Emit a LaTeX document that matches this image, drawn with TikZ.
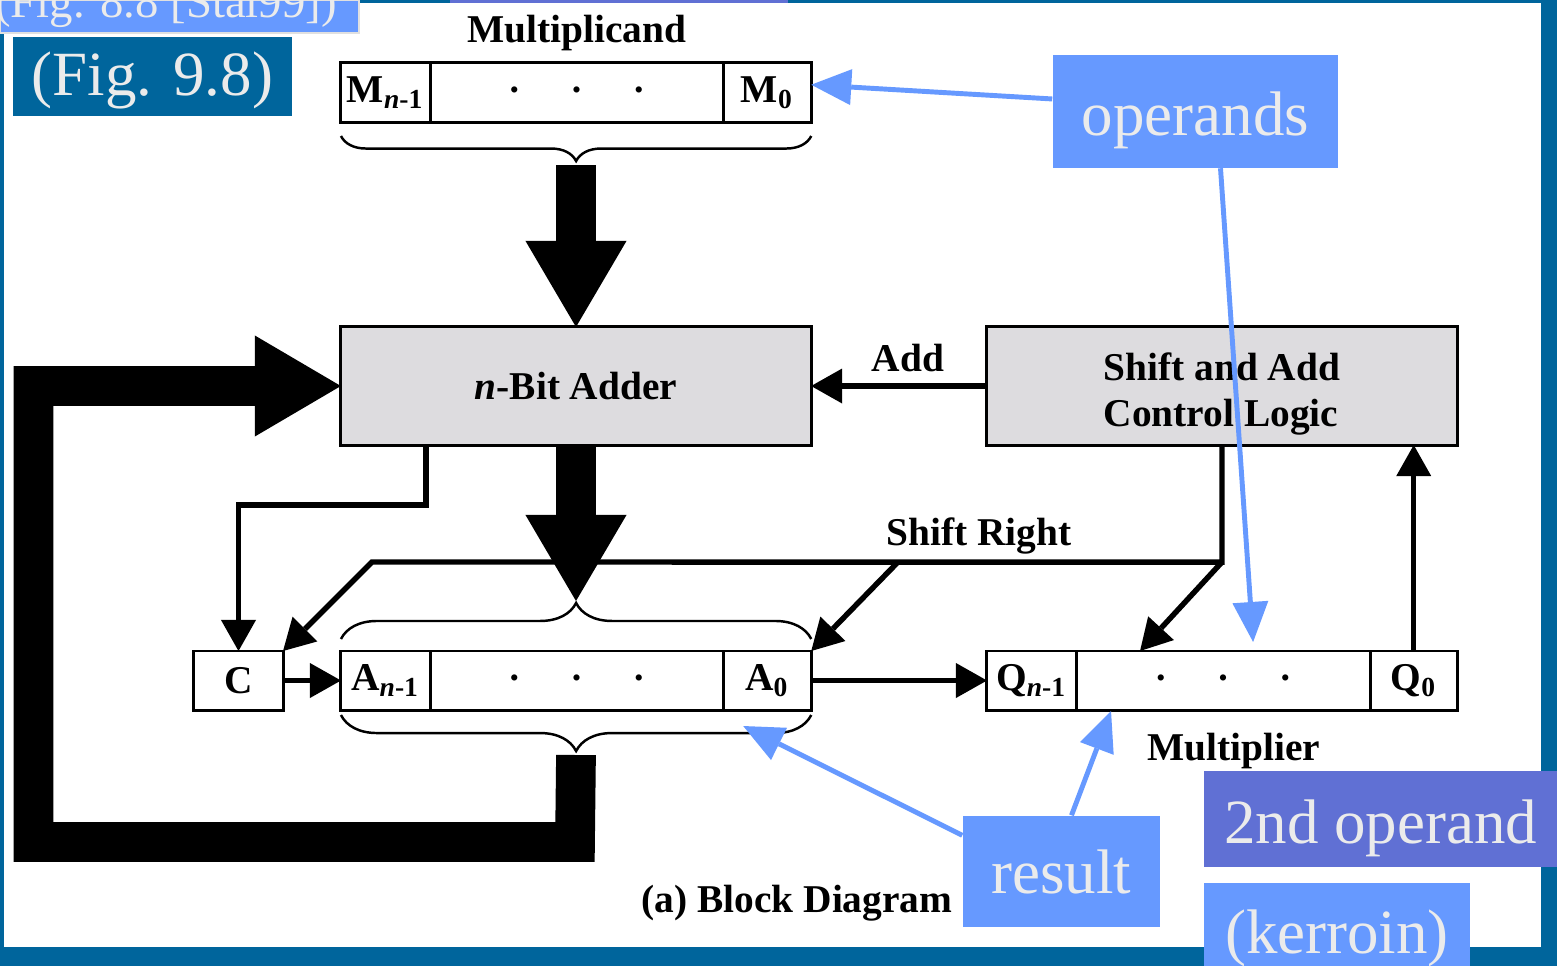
\documentclass[tikz,border=0pt]{standalone}
\usepackage{fontspec}
\setmainfont{Liberation Serif}
\usetikzlibrary{arrows.meta,calc,positioning,decorations.pathreplacing}

\definecolor{slideblue}{RGB}{0,101,156}
\definecolor{tagblue}{RGB}{102,153,255}
\definecolor{tagviolet}{RGB}{96,112,212}
\definecolor{tagtext}{RGB}{235,235,235}
\definecolor{unitgray}{RGB}{221,220,223}

\newcommand{\labfont}{\fontsize{11.2}{13.3}\selectfont\bfseries}
\newcommand{\tagfont}{\fontsize{17.9}{21}\selectfont}
\newcommand{\regdot}{{\fontsize{6.5}{6.5}\selectfont\textbullet}}
\newcommand{\regdots}{\regdot\hspace{15.4pt}\regdot\hspace{15.4pt}\regdot}

\tikzset{
  cell/.style={draw, line width=0.85pt, inner sep=0pt, outer sep=0pt, minimum height=0.59cm, font=\labfont},
  unit/.style={draw, line width=0.85pt, fill=unitgray, inner sep=0pt, outer sep=0pt, minimum width=4.7cm, minimum height=1.18cm, font=\labfont},
  wire/.style={line width=1.55pt, line join=miter},
  arr/.style={wire, -{Triangle[width=0.35cm,length=0.31cm,line width=0pt]}},
  bus/.style={line width=11.3pt, line join=miter, -{Triangle[width=1.01cm,length=0.86cm,line width=0pt]}},
  brc/.style={decorate, decoration={brace, amplitude=#1}, line width=0.7pt},
  tag/.style={fill=tagblue, text=tagtext, font=\tagfont, inner sep=0pt, text depth=0pt},
  hint/.style={line width=1.4pt, color=tagblue, -{Triangle[width=0.36cm,length=0.4cm,line width=0pt]}}
}

\begin{document}
\begin{tikzpicture}[x=0.01cm, y=-0.01cm]
	%%%%% START %%%%%
	\fill[white, use as bounding box] (0,0) rectangle (1557,966);
	
	% slide frame
	\fill[slideblue] (0,0) rectangle (4,966);
	\fill[slideblue] (0,0) rectangle (1557,3);
	\fill[slideblue] (1541,0) rectangle (1557,966);
	\fill[slideblue] (0,947) rectangle (1557,966);
	\fill[tagviolet] (450,0) rectangle (788,3);
	
	% figure references
	\node[tag, minimum width=3.59cm, minimum height=0.33cm, draw=black!12, line width=0.4pt] (oldref) at (179.5,16.5) {};
	\node[text=tagtext, font=\fontsize{13.3}{15}\selectfont, anchor=base] (oldreftxt) at (166,17) {(Fig. 8.8 [Stal99])};
	\node[tag, fill=slideblue, minimum width=2.79cm, minimum height=0.79cm, text height=0.37cm] (figref) at (152.5,76.5) {(Fig. 9.8)};
	
	% multiplicand
	\node[font=\labfont] (mcand) at (577,33) {Multiplicand};
	\node[cell, minimum width=0.89cm] (mhi) at (385.5,92.5) {M\textsubscript{\textit{n}-1}};
	\node[cell, minimum width=2.93cm, right=0pt of mhi] (mmid) {\regdots};
	\node[cell, minimum width=0.88cm, right=0pt of mmid] (mlo) {M\textsubscript{0}};
	\draw[brc=0.25cm] ($(mlo.south east)+(0,14)$) -- ($(mhi.south west)+(0,14)$);
	\coordinate (mtip) at (576,165);
	
	% adder and control logic
	\node[unit] (adder) at (576,386) {\textit{n}-Bit Adder};
	\node[unit] (ctrl) at (1222,386) {};
	\node[font=\labfont, align=left] (ctrltxt) at (1222,394) {Shift and Add\\Control Logic};
	\draw[bus] (mtip) -- (adder.north);
	\draw[arr] (ctrl.west) -- (adder.east);
	\node[font=\labfont] (addlbl) at (908,358) {Add};
	
	% C and A
	\node[cell, minimum width=0.89cm] (cbit) at (238.5,680.5) {C};
	\node[cell, minimum width=0.89cm] (ahi) at (385.5,680.5) {A\textsubscript{\textit{n}-1}};
	\node[cell, minimum width=2.93cm, right=0pt of ahi] (amid) {\regdots};
	\node[cell, minimum width=0.88cm, right=0pt of amid] (alo) {A\textsubscript{0}};
	\draw[brc=0.36cm] ($(ahi.north west)+(0,-12)$) -- ($(alo.north east)+(0,-12)$);
	\draw[brc=0.36cm] ($(alo.south east)+(0,5)$) -- ($(ahi.south west)+(0,5)$);
	\coordinate (atop) at (576,601);
	\coordinate (abot) at (576,755);
	
	% Q
	\node[cell, minimum width=0.89cm] (qhi) at (1031.5,680.5) {Q\textsubscript{\textit{n}-1}};
	\node[cell, minimum width=2.94cm, right=0pt of qhi] (qmid) {\regdots};
	\node[cell, minimum width=0.87cm, right=0pt of qmid] (qlo) {Q\textsubscript{0}};
	\node[font=\labfont] (mplier) at (1234,751) {Multiplier};
	
	% data paths
	\draw[bus] (adder.south) -- (atop);
	\draw[bus] (abot) -- (575,842) -- (33.5,842) |- (adder.west);
	\draw[arr] ($(adder.south west)+(85,0)$) -- ++(0,60) -| (cbit.north);
	\draw[arr] (cbit.east) -- (ahi.west);
	\draw[arr] (alo.east) -- (qhi.west);
	\draw[arr] (qlo.north) -- (qlo.north |- ctrl.south);
	
	% shift right
	\coordinate (srR) at ($(ctrl.south)+(0,117)$);
	\coordinate (srM) at (898,562);
	\coordinate (srL) at (372,562);
	\draw[arr] (ctrl.south) -- (srR) -- (srL) -- (cbit.north east);
	\draw[arr] (srM) -- (alo.north east);
	\draw[arr] (srR) -- ($(qmid.north west)+(64,0)$);
	\node[font=\labfont] (srlbl) at (979,536) {Shift Right};
	
	\node[font=\labfont] (caption) at (797,903) {(a) Block Diagram};
	
	% callouts
	\node[tag, minimum width=2.85cm, minimum height=1.12cm, text height=0.47cm] (ops) at (1195.5,111.5) {operands};
	\node[tag, minimum width=1.97cm, minimum height=1.11cm, text height=0.43cm] (res) at (1061.5,871.5) {result};
	\node[tag, fill=tagviolet, minimum width=3.53cm, minimum height=0.96cm, text height=0.48cm] (second) at (1380.5,819) {2nd operand};
	\node[tag, minimum width=2.66cm, minimum height=0.83cm, text height=0.57cm] (kerroin) at (1337,924.5) {(kerroin)};
	
	\draw[hint] (ops.175) -- (mlo.10);
	\draw[hint] ($(ops.south)+(25,0)$) -- ($(qmid.north)+(30,-9)$);
	\draw[hint] ($(res.north west)+(0,20)$) -- ($(alo.south)+(-24,16)$);
	\draw[hint] ($(res.north)+(10,0)$) -- ($(qmid.south west)+(35,1)$);
	
	%%%%% END %%%%%
\end{tikzpicture}
\end{document}
